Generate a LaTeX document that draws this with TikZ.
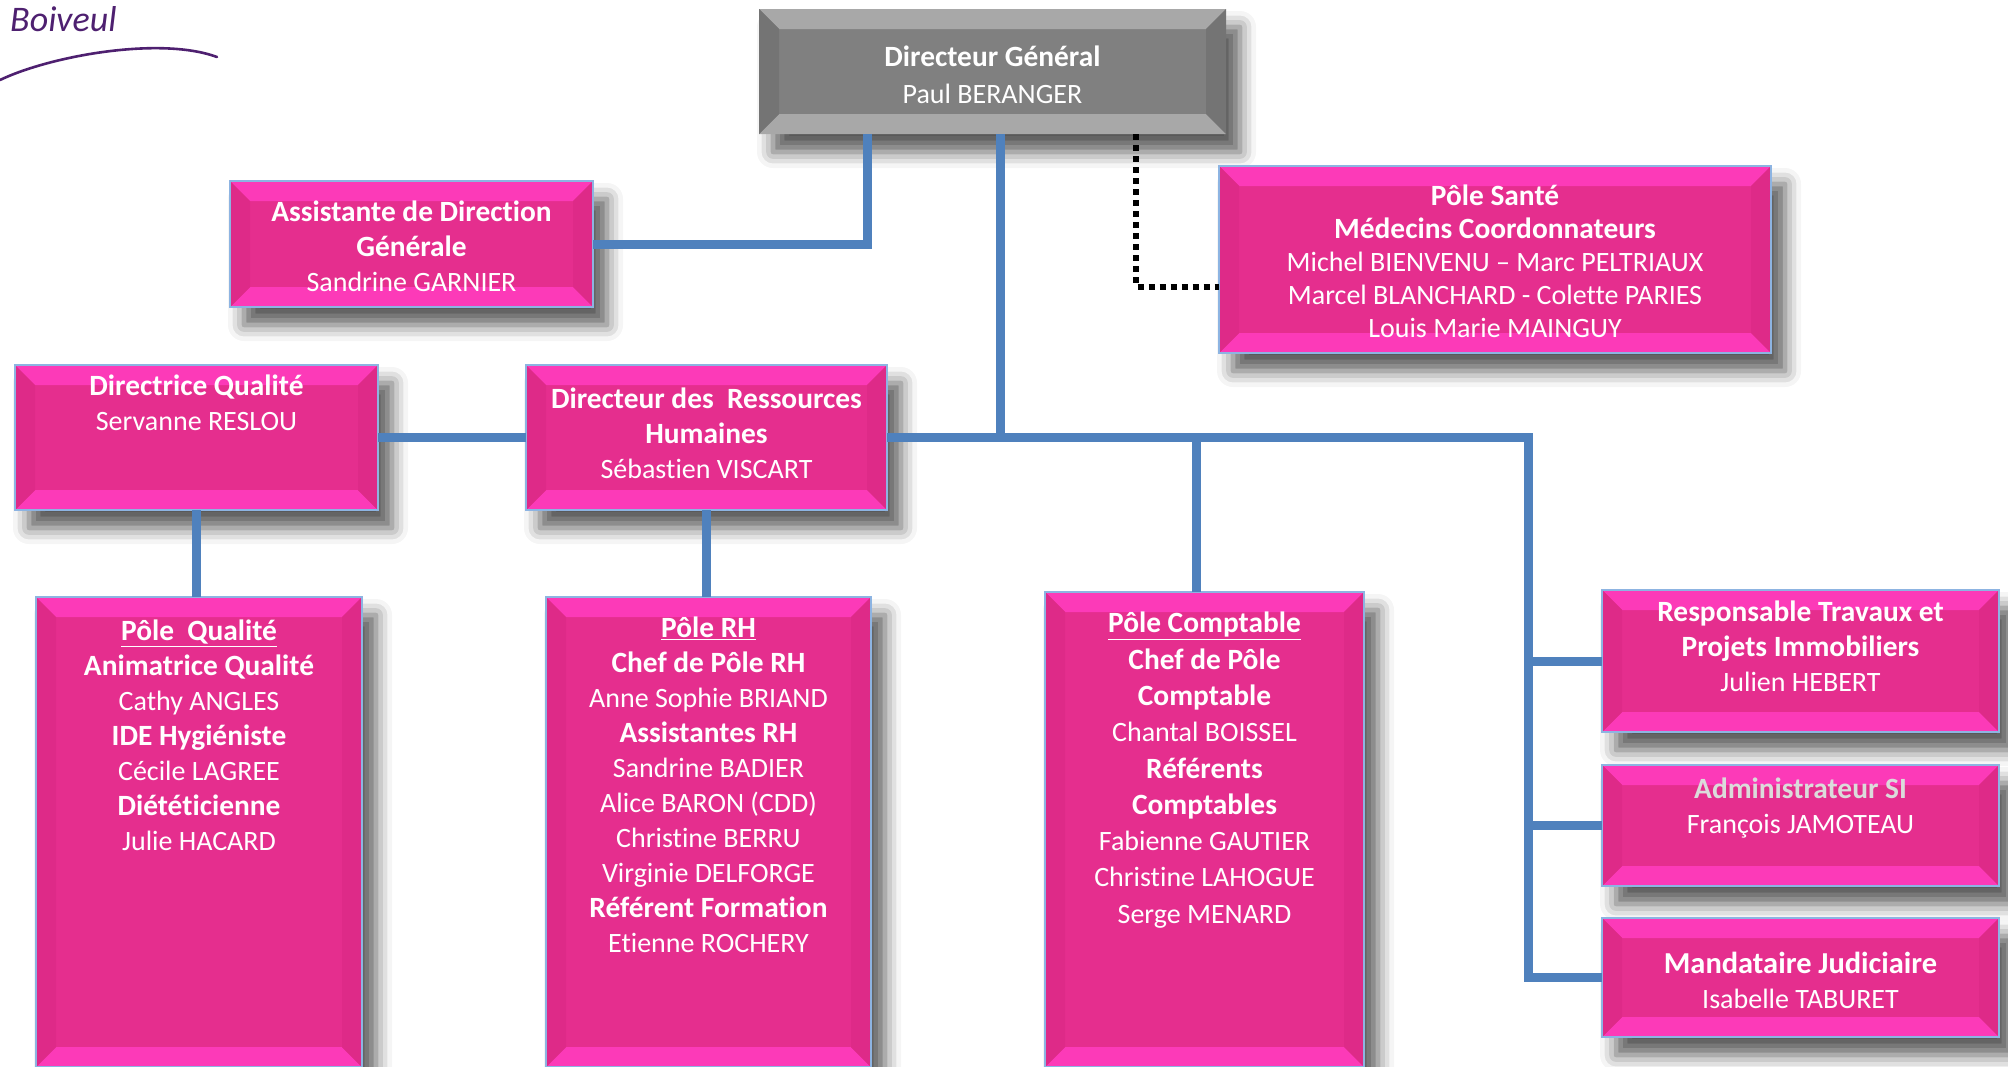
\documentclass[tikz,border=0pt]{standalone}
\usepackage{fontspec}
\setmainfont{Carlito}[Ligatures=NoCommon, BoldFeatures={Scale=1.05}]
\usepackage{xcolor}
\usetikzlibrary{positioning,calc,shadows.blur}

\definecolor{pinkmid}{RGB}{229,46,142}
\definecolor{pinktop}{RGB}{252,58,184}
\definecolor{pinkside}{RGB}{222,42,136}
\definecolor{greymid}{RGB}{128,128,128}
\definecolor{greytop}{RGB}{168,168,168}
\definecolor{greyside}{RGB}{116,116,116}
\definecolor{boxline}{RGB}{141,180,226}
\definecolor{linkblue}{RGB}{79,129,189}
\definecolor{logopurple}{RGB}{78,32,112}

\tikzset{
  bevel/.style 2 args={path picture={
    \fill[#1] (path picture bounding box.north west) -- (path picture bounding box.north east)
      -- ([shift={(-20pt,-20pt)}]path picture bounding box.north east)
      -- ([shift={(20pt,-20pt)}]path picture bounding box.north west) -- cycle;
    \fill[#1] (path picture bounding box.south west) -- (path picture bounding box.south east)
      -- ([shift={(-20pt,20pt)}]path picture bounding box.south east)
      -- ([shift={(20pt,20pt)}]path picture bounding box.south west) -- cycle;
    \fill[#2] (path picture bounding box.north west) -- ([shift={(20pt,-20pt)}]path picture bounding box.north west)
      -- ([shift={(20pt,20pt)}]path picture bounding box.south west) -- (path picture bounding box.south west) -- cycle;
    \fill[#2] (path picture bounding box.north east) -- ([shift={(-20pt,-20pt)}]path picture bounding box.north east)
      -- ([shift={(-20pt,20pt)}]path picture bounding box.south east) -- (path picture bounding box.south east) -- cycle;
  }}
}

\begin{document}
\begin{tikzpicture}[
  x=1pt, y=-1pt,
  box/.style={inner sep=0pt, outer sep=0pt, anchor=north west,
              blur shadow={shadow xshift=14pt, shadow yshift=-18pt,
                           shadow blur radius=16pt, shadow opacity=65}},
  pinkbox/.style={box, draw=boxline, line width=1.2pt, fill=pinkmid, bevel={pinktop}{pinkside}},
  greybox/.style={box, fill=greymid, bevel={greytop}{greyside}},
  txt/.style={text=white, align=center, inner sep=0pt, font=\fontsize{28}{35}\selectfont},
  link/.style={draw=linkblue, line width=9pt},
  dotlink/.style={draw=black, line width=6pt, dash pattern=on 6pt off 5pt},
  logo/.style={text=logopurple, font=\itshape\fontsize{36}{36}\selectfont, inner sep=0pt},
  logoline/.style={draw=logopurple, line width=2.6pt, line cap=round}
]
\useasboundingbox (0,0) rectangle (2008,1066);
\clip (0,0) rectangle (2008,1066);

% logo
\node[logo, anchor=base west] (logo) at (10,31) {Boiveul};
\draw[logoline] (0,80) .. controls (50,56) and (160,36) .. (217,57);

% boxes
\node[greybox, minimum width=467, minimum height=125] (dg) at (759,9) {};
\node[pinkbox, minimum width=363, minimum height=126] (adg) at (230,181) {};
\node[pinkbox, minimum width=552, minimum height=187] (sante) at (1219,166) {};
\node[pinkbox, minimum width=363, minimum height=145] (dq) at (15,365) {};
\node[pinkbox, minimum width=361, minimum height=145] (drh) at (526,365) {};
\node[pinkbox, minimum width=326, minimum height=470] (pq) at (36,597) {};
\node[pinkbox, minimum width=325, minimum height=470] (prh) at (546,597) {};
\node[pinkbox, minimum width=319, minimum height=475] (pc) at (1045,592) {};
\node[pinkbox, minimum width=397, minimum height=142] (trav) at (1602,590) {};
\node[pinkbox, minimum width=397, minimum height=121] (si) at (1602,765) {};
\node[pinkbox, minimum width=397, minimum height=119] (mj) at (1602,918) {};

% texts
\node[txt, font=\fontsize{28}{37}\selectfont] (dg-t) at ([yshift=-3pt]dg.center)
  {\textbf{Directeur Général}\\Paul BERANGER};
\node[txt] (adg-t) at ([yshift=-2pt]adg.center)
  {\textbf{Assistante de Direction}\\\textbf{Générale}\\Sandrine GARNIER};
\node[txt, font=\fontsize{28}{33}\selectfont] (sante-t) at ([yshift=-2pt]sante.center)
  {\textbf{Pôle Santé}\\\textbf{Médecins Coordonnateurs}\\Michel BIENVENU – Marc PELTRIAUX\\Marcel BLANCHARD - Colette PARIES\\Louis Marie MAINGUY};
\node[txt, anchor=north] (dq-t) at ([yshift=-10pt]dq.north)
  {\textbf{Directrice Qualité}\\Servanne RESLOU};
\node[txt] (drh-t) at ([yshift=4pt]drh.center)
  {\textbf{Directeur des\ \ Ressources}\\\textbf{Humaines}\\Sébastien VISCART};
\node[txt, anchor=north] (pq-t) at ([yshift=-23pt]pq.north)
  {\textbf{\underline{Pôle\ \ Qualité}}\\\textbf{Animatrice Qualité}\\Cathy ANGLES\\\textbf{IDE Hygiéniste}\\Cécile LAGREE\\\textbf{Diététicienne}\\Julie HACARD};
\node[txt, anchor=north] (prh-t) at ([yshift=-20pt]prh.north)
  {\textbf{\underline{Pôle RH}}\\\textbf{Chef de Pôle RH}\\Anne Sophie BRIAND\\\textbf{Assistantes RH}\\Sandrine BADIER\\Alice BARON (CDD)\\Christine BERRU\\Virginie DELFORGE\\\textbf{Référent Formation}\\Etienne ROCHERY};
\node[txt, anchor=north, font=\fontsize{28}{36.3}\selectfont] (pc-t) at ([yshift=-20pt]pc.north)
  {\textbf{\underline{Pôle Comptable}}\\\textbf{Chef de Pôle}\\\textbf{Comptable}\\Chantal BOISSEL\\\textbf{Référents}\\\textbf{Comptables}\\Fabienne GAUTIER\\Christine LAHOGUE\\Serge MENARD};
\node[txt, anchor=north] (trav-t) at ([yshift=-11pt]trav.north)
  {\textbf{Responsable Travaux et}\\\textbf{Projets Immobiliers}\\Julien HEBERT};
\node[txt, anchor=north] (si-t) at ([yshift=-13pt]si.north)
  {\textcolor{white!86!black}{\textbf{Administrateur SI}}\\François JAMOTEAU};
\node[txt] (mj-t) at ([yshift=-3pt]mj.center)
  {{\fontsize{29}{35}\selectfont\textbf{Mandataire Judiciaire}}\\Isabelle TABURET};

% connectors
\coordinate (j1) at (867,0);
\coordinate (bus) at (1000,438);
\coordinate (rbus) at (1528,438);
\coordinate (dot) at (1136,0);

\draw[link] (dg.south -| j1) |- (adg.east);
\draw[link] (dg.south -| bus) -- (bus);
\draw[dotlink] (dg.south -| dot) |- ([yshift=-27pt]sante.west);
\draw[link] (dq.east) -- (drh.west);
\draw[link] (drh.east) -- (drh.east -| rbus) |- (mj.west);
\draw[link] (rbus |- trav.west) -- (trav.west);
\draw[link] (rbus |- si.west) -- (si.west);
\draw[link] ([xshift=-8pt]pc.north |- bus) -- ([xshift=-8pt]pc.north);
\draw[link] (dq.south) -- (dq.south |- pq.north);
\draw[link] (drh.south) -- (drh.south |- prh.north);
\end{tikzpicture}
\end{document}
